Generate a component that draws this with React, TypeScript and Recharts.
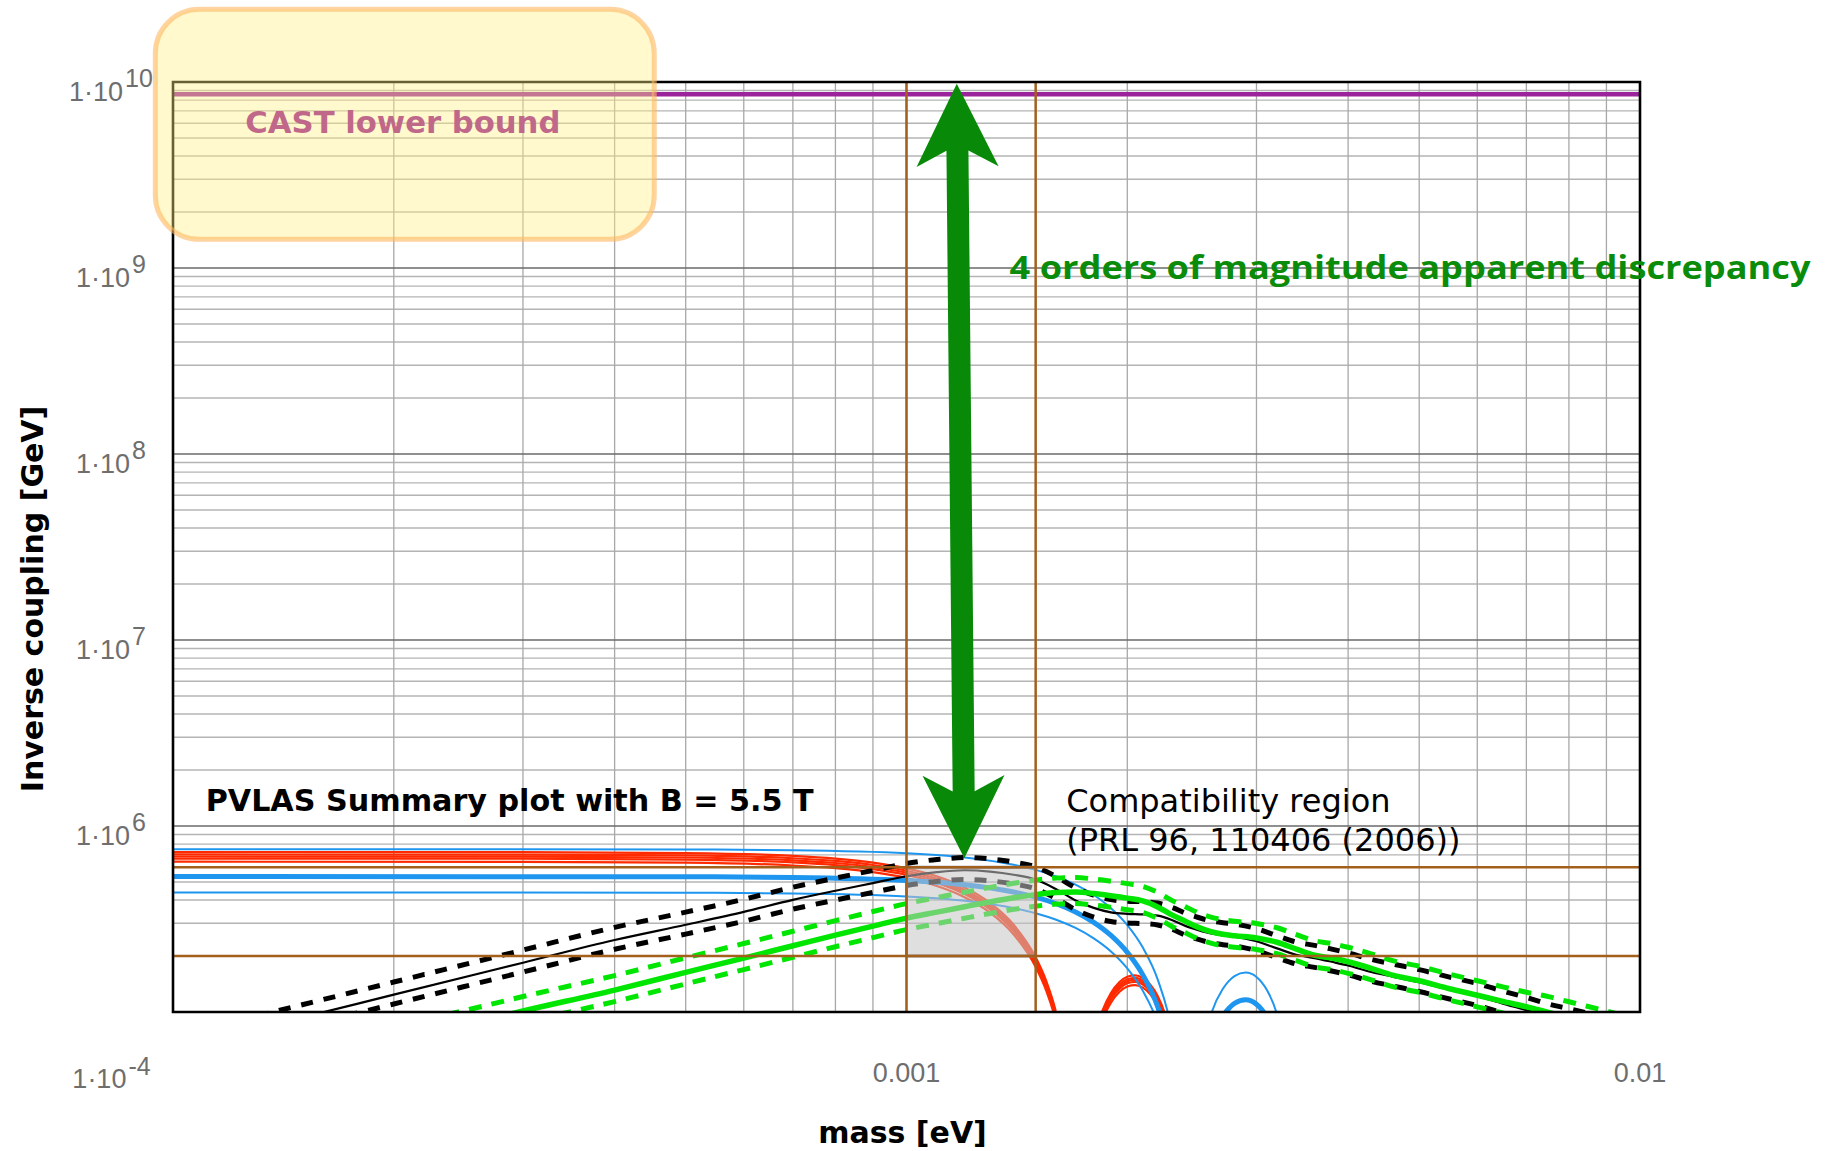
import React from 'react';
import { LineChart, Line, XAxis, YAxis, ReferenceLine, ReferenceArea, ReferenceDot } from 'recharts';

const W = 1830;
const H = 1151;

// ---------------- axes ----------------
const massDomain = [1e-4, 1e-2];
const couplingDomain = [1e5, 1e10];
const massTicks = [1e-4, 1e-3, 1e-2];
const massTickLabels = ['1·10', '0.001', '0.01'];
const couplingTicks = [1e6, 1e7, 1e8, 1e9, 1e10];
const gridSteps = [2, 3, 4, 5, 6, 7, 8, 9];
const massDecades = [1e-4, 1e-3];
const couplingDecades = [1e5, 1e6, 1e7, 1e8, 1e9];
const massMajorGrid = [1e-3];
const couplingMajorGrid = [1e6, 1e7, 1e8, 1e9];

// ---------------- bounds / regions ----------------
const castBound = 8.6e9;
const compatMass = [1.0e-3, 1.5e-3];
const compatCoupling = [2e5, 6e5];
const castBox = { m1: 9.46e-5, m2: 4.53e-4, M1: 1.426e9, M2: 2.46e10 };
const arrowTop = { m: 1.171e-3, M: 9.8e9 };
const arrowBottom = { m: 1.199e-3, M: 6.7e5 };
const castLabelAt = { m: 1.255e-4, M: 5.3e9 };
const discrepancyLabelAt = { m: 1.382e-3, M: 8.77e8 };
const pvlasLabelAt = { m: 1.108e-4, M: 1.204e6 };
const compatLabelAt = { m: 1.651e-3, M: 1.189e6 };

// ---------------- rotation (red) ----------------
const massRotRed = [1e-4, 3e-4, 5e-4, 7e-4, 8e-4, 9e-4, 1.0e-3, 1.1e-3, 1.2e-3, 1.3e-3, 1.4e-3, 1.5e-3, 1.55e-3, 1.6e-3, 1.65e-3];
const rotRed1 = [7.244e5, 7.233e5, 7.156e5, 6.913e5, 6.684e5, 6.361e5, 5.923e5, 5.36e5, 4.669e5, 3.857e5, 2.943e5, 1.968e5, 1.473e5, 9.856e4, 5.14e4];
const rotRed2 = [7.03e5, 7.02e5, 6.945e5, 6.709e5, 6.487e5, 6.173e5, 5.748e5, 5.202e5, 4.531e5, 3.743e5, 2.856e5, 1.91e5, 1.43e5, 9.565e4, 4.99e4];
const rotRed3 = [6.854e5, 6.844e5, 6.771e5, 6.541e5, 6.324e5, 6.019e5, 5.604e5, 5.072e5, 4.418e5, 3.649e5, 2.785e5, 1.862e5, 1.394e5, 9.326e4, 4.86e4];
const rotRed4 = [6.683e5, 6.673e5, 6.602e5, 6.378e5, 6.167e5, 5.869e5, 5.465e5, 4.945e5, 4.308e5, 3.558e5, 2.715e5, 1.816e5, 1.359e5, 9.093e4, 4.74e4];
const rotRed5 = [6.427e5, 6.417e5, 6.349e5, 6.133e5, 5.93e5, 5.644e5, 5.255e5, 4.755e5, 4.142e5, 3.422e5, 2.611e5, 1.746e5, 1.307e5, 8.744e4, 4.56e4];

const massRedLobe2 = [1.8e-3, 1.85e-3, 1.9e-3, 1.95e-3, 2.0e-3, 2.05e-3, 2.1e-3, 2.15e-3, 2.2e-3, 2.25e-3, 2.3e-3];
const redLobe1 = [7.08e4, 1.018e5, 1.265e5, 1.443e5, 1.546e5, 1.573e5, 1.524e5, 1.404e5, 1.22e5, 9.81e4, 7.03e4];
const redLobe2 = [6.87e4, 9.88e4, 1.227e5, 1.4e5, 1.5e5, 1.527e5, 1.479e5, 1.362e5, 1.184e5, 9.52e4, 6.83e4];
const redLobe3 = [6.7e4, 9.63e4, 1.197e5, 1.365e5, 1.463e5, 1.489e5, 1.442e5, 1.328e5, 1.154e5, 9.28e4, 6.66e4];
const redLobe4 = [6.53e4, 9.39e4, 1.167e5, 1.331e5, 1.426e5, 1.452e5, 1.406e5, 1.295e5, 1.125e5, 9.05e4, 6.49e4];
const redLobe5 = [6.28e4, 9.03e4, 1.122e5, 1.28e5, 1.372e5, 1.396e5, 1.352e5, 1.246e5, 1.082e5, 8.7e4, 6.24e4];

// ---------------- rotation (blue) ----------------
const massRotBlue = [1e-4, 5e-4, 7e-4, 1e-3, 1.2e-3, 1.4e-3, 1.5e-3, 1.6e-3, 1.7e-3, 1.8e-3, 1.9e-3, 2.0e-3, 2.1e-3, 2.2e-3, 2.3e-3, 2.35e-3];
const blueThinTop = [7.5e5, 7.478e5, 7.414e5, 7.145e5, 6.775e5, 6.194e5, 5.807e5, 5.355e5, 4.837e5, 4.255e5, 3.617e5, 2.933e5, 2.22e5, 1.498e5, 7.905e4, 4.51e4];
const blueThick = [5.35e5, 5.334e5, 5.288e5, 5.097e5, 4.833e5, 4.418e5, 4.143e5, 3.82e5, 3.45e5, 3.035e5, 2.58e5, 2.092e5, 1.584e5, 1.068e5, 5.64e4, 3.22e4];
const blueThinLow = [4.39e5, 4.377e5, 4.34e5, 4.182e5, 3.965e5, 3.625e5, 3.399e5, 3.134e5, 2.831e5, 2.49e5, 2.117e5, 1.716e5, 1.299e5, 8.77e4, 4.63e4, 2.64e4];

const massBlueLobe2 = [2.5e-3, 2.6e-3, 2.7e-3, 2.75e-3, 2.8e-3, 2.9e-3, 3.0e-3, 3.05e-3, 3.1e-3, 3.2e-3, 3.3e-3];
const blueThinTopLobe = [4.69e4, 9.64e4, 1.334e5, 1.466e5, 1.56e5, 1.629e5, 1.544e5, 1.445e5, 1.314e5, 9.7e4, 5.48e4];
const blueThickLobe = [3.34e4, 6.87e4, 9.52e4, 1.045e5, 1.113e5, 1.162e5, 1.101e5, 1.031e5, 9.37e4, 6.92e4, 3.91e4];

// ---------------- ellipticity (black) ----------------
const massEllBlack = [1.3e-4, 1.5e-4, 2e-4, 3e-4, 4e-4, 5e-4, 6e-4, 7e-4, 8e-4, 9e-4, 1.0e-3, 1.1e-3, 1.2e-3, 1.3e-3, 1.4e-3, 1.5e-3, 1.6e-3, 1.7e-3, 1.8e-3, 1.9e-3, 2.0e-3, 2.1e-3, 2.2e-3, 2.3e-3, 2.4e-3, 2.5e-3, 2.6e-3, 2.7e-3, 2.8e-3, 3.0e-3, 3.2e-3, 3.4e-3, 3.6e-3, 3.8e-3, 4.0e-3, 4.3e-3, 4.6e-3, 5.0e-3, 5.5e-3, 6.0e-3, 6.5e-3, 7.0e-3, 7.5e-3, 8.0e-3, 8.5e-3];
const blackCentral = [8.13e4, 9.35e4, 1.239e5, 1.841e5, 2.438e5, 2.944e5, 3.451e5, 4.009e5, 4.487e5, 4.932e5, 5.37e5, 5.649e5, 5.781e5, 5.689e5, 5.47e5, 5.152e5, 4.571e5, 3.981e5, 3.631e5, 3.436e5, 3.373e5, 3.35e5, 3.296e5, 3.126e5, 2.904e5, 2.754e5, 2.642e5, 2.582e5, 2.541e5, 2.399e5, 2.198e5, 2.032e5, 1.95e5, 1.862e5, 1.778e5, 1.641e5, 1.549e5, 1.445e5, 1.318e5, 1.216e5, 1.109e5, 1.023e5, 9.44e4, 8.91e4, 8.41e4];
const blackUpper = [9.51e4, 1.094e5, 1.449e5, 2.153e5, 2.851e5, 3.443e5, 4.036e5, 4.688e5, 5.248e5, 5.768e5, 6.28e5, 6.606e5, 6.761e5, 6.653e5, 6.397e5, 6.025e5, 5.346e5, 4.656e5, 4.246e5, 4.018e5, 3.945e5, 3.918e5, 3.855e5, 3.656e5, 3.396e5, 3.221e5, 3.09e5, 3.02e5, 2.972e5, 2.806e5, 2.571e5, 2.376e5, 2.281e5, 2.178e5, 2.079e5, 1.919e5, 1.812e5, 1.69e5, 1.541e5, 1.422e5, 1.297e5, 1.196e5, 1.104e5, 1.042e5, 9.84e4];
const blackLower = [7.25e4, 8.34e4, 1.104e5, 1.641e5, 2.173e5, 2.624e5, 3.076e5, 3.573e5, 3.999e5, 4.396e5, 4.786e5, 5.035e5, 5.153e5, 5.071e5, 4.875e5, 4.592e5, 4.074e5, 3.548e5, 3.236e5, 3.063e5, 3.006e5, 2.986e5, 2.938e5, 2.786e5, 2.588e5, 2.455e5, 2.355e5, 2.301e5, 2.265e5, 2.138e5, 1.959e5, 1.811e5, 1.738e5, 1.66e5, 1.585e5, 1.463e5, 1.381e5, 1.288e5, 1.175e5, 1.084e5, 9.88e4, 9.12e4, 8.41e4, 7.94e4, 7.5e4];

// ---------------- ellipticity (green) ----------------
const massEllGreen = [2.2e-4, 2.5e-4, 3e-4, 4e-4, 5e-4, 6e-4, 7e-4, 8e-4, 9e-4, 1.0e-3, 1.1e-3, 1.2e-3, 1.3e-3, 1.4e-3, 1.5e-3, 1.6e-3, 1.7e-3, 1.8e-3, 1.9e-3, 2.0e-3, 2.1e-3, 2.2e-3, 2.3e-3, 2.4e-3, 2.5e-3, 2.6e-3, 2.7e-3, 2.8e-3, 3.0e-3, 3.2e-3, 3.4e-3, 3.6e-3, 3.8e-3, 4.0e-3, 4.3e-3, 4.6e-3, 5.0e-3, 5.5e-3, 6.0e-3, 6.5e-3, 7.0e-3, 7.5e-3, 8.0e-3, 8.5e-3, 9.0e-3, 9.5e-3];
const greenCentral = [7.59e4, 8.51e4, 1.012e5, 1.312e5, 1.633e5, 1.95e5, 2.27e5, 2.588e5, 2.897e5, 3.199e5, 3.443e5, 3.681e5, 3.908e5, 4.111e5, 4.276e5, 4.385e5, 4.416e5, 4.335e5, 4.217e5, 4.093e5, 3.954e5, 3.673e5, 3.327e5, 3.076e5, 2.851e5, 2.704e5, 2.618e5, 2.57e5, 2.5e5, 2.371e5, 2.178e5, 2.018e5, 1.95e5, 1.862e5, 1.718e5, 1.578e5, 1.472e5, 1.334e5, 1.23e5, 1.14e5, 1.067e5, 9.95e4, 9.33e4, 8.81e4, 8.32e4, 7.89e4];
const greenUpper = [9.08e4, 1.019e5, 1.211e5, 1.57e5, 1.955e5, 2.334e5, 2.717e5, 3.098e5, 3.468e5, 3.829e5, 4.121e5, 4.406e5, 4.678e5, 4.921e5, 5.118e5, 5.249e5, 5.286e5, 5.189e5, 5.048e5, 4.899e5, 4.733e5, 4.397e5, 3.982e5, 3.682e5, 3.413e5, 3.237e5, 3.134e5, 3.076e5, 2.993e5, 2.838e5, 2.607e5, 2.416e5, 2.334e5, 2.229e5, 2.056e5, 1.889e5, 1.762e5, 1.597e5, 1.472e5, 1.365e5, 1.277e5, 1.21e5, 1.135e5, 1.071e5, 1.011e5, 9.59e4];
const greenLower = [6.58e4, 7.38e4, 8.77e4, 1.137e5, 1.416e5, 1.691e5, 1.968e5, 2.244e5, 2.512e5, 2.774e5, 2.985e5, 3.191e5, 3.388e5, 3.564e5, 3.707e5, 3.802e5, 3.829e5, 3.758e5, 3.656e5, 3.549e5, 3.428e5, 3.185e5, 2.885e5, 2.667e5, 2.472e5, 2.344e5, 2.27e5, 2.228e5, 2.168e5, 2.056e5, 1.888e5, 1.75e5, 1.691e5, 1.614e5, 1.49e5, 1.368e5, 1.276e5, 1.157e5, 1.066e5, 9.88e4, 9.25e4, 8.63e4, 8.09e4, 7.64e4, 7.21e4, 6.84e4];

// ---------------- helpers ----------------
type Row = { m: number; M: number };
const rows = (ms: number[], Ms: number[]): Row[] => ms.map((m, i) => ({ m, M: Ms[i] }));

const massMinorGrid = massDecades.flatMap((d) => gridSteps.map((k) => k * d));
const couplingMinorGrid = couplingDecades.flatMap((d) => gridSteps.map((k) => k * d));

const RED = '#ff2a00';
const BLUE = '#1e96f0';
const GREEN = '#00e600';
const BROWN = '#a35f1c';
const PURPLE = '#9b239b';
const ARROW = '#088a08';
const TICK_GRAY = '#6e6e6e';
const SANS = 'DejaVu Sans, sans-serif';
const TICK_FONT = 'Liberation Sans, Arial, sans-serif';

const YTick = (props: any) => {
  const { x, y, payload } = props;
  const exp = Math.round(Math.log10(payload.value));
  return (
    <text x={x - 62} y={y + 19} textAnchor="middle" fill={TICK_GRAY} fontFamily={TICK_FONT} fontSize={27}>
      <tspan>1·10</tspan>
      <tspan dx={2} dy={-14} fontSize={25}>{exp}</tspan>
    </text>
  );
};

const XTick = (props: any) => {
  const { x, y, payload } = props;
  const idx = massTicks.findIndex((t) => Math.abs(t - payload.value) / t < 1e-6);
  if (idx === 0) {
    return (
      <text x={x - 61.5} y={y + 76} textAnchor="middle" fill={TICK_GRAY} fontFamily={TICK_FONT} fontSize={27}>
        <tspan>{massTickLabels[0]}</tspan>
        <tspan dx={2} dy={-13} fontSize={25}>-4</tspan>
      </text>
    );
  }
  return (
    <text x={x} y={y + 70} textAnchor="middle" fill={TICK_GRAY} fontFamily={TICK_FONT} fontSize={27}>
      {massTickLabels[idx]}
    </text>
  );
};

const YTitle = (props: any) => {
  const vb = props.viewBox;
  const cx = vb.x + 43;
  const cy = vb.y + vb.height / 2 + 52;
  return (
    <text
      x={cx}
      y={cy}
      transform={`rotate(-90 ${cx} ${cy})`}
      textAnchor="middle"
      fontFamily={SANS}
      fontWeight="bold"
      fontSize={30}
      fill="#000"
    >
      Inverse coupling [GeV]
    </text>
  );
};

const XTitle = (props: any) => {
  const vb = props.viewBox;
  return (
    <text x={vb.x + vb.width / 2 - 4} y={vb.y + 131} textAnchor="middle" fontFamily={SANS} fontWeight="bold" fontSize={30} fill="#000">
      mass [eV]
    </text>
  );
};

const ArrowShape = (p: any) => {
  const { x1, y1, x2, y2 } = p;
  const dx = x2 - x1;
  const dy = y2 - y1;
  const len = Math.hypot(dx, dy) || 1;
  const ux = dx / len;
  const uy = dy / len;
  const nx = -uy;
  const ny = ux;
  const head = 83;
  const notch = 16;
  const half = 41;
  const shaft = 11;
  const pt = (bx: number, by: number, a: number, b: number) => `${bx + ux * a + nx * b},${by + uy * a + ny * b}`;
  const pts = [
    pt(x1, y1, 0, 0),
    pt(x1, y1, head, half),
    pt(x1, y1, head - notch, shaft),
    pt(x2, y2, -(head - notch), shaft),
    pt(x2, y2, -head, half),
    pt(x2, y2, 0, 0),
    pt(x2, y2, -head, -half),
    pt(x2, y2, -(head - notch), -shaft),
    pt(x1, y1, head - notch, -shaft),
    pt(x1, y1, head, -half),
  ];
  return <polygon points={pts.join(' ')} fill={ARROW} />;
};

const CastBoxShape = (p: any) => (
  <rect
    x={p.x}
    y={p.y}
    width={p.width}
    height={p.height}
    rx={44}
    ry={44}
    fill="#fff082"
    fillOpacity={0.4}
    stroke="#ffb860"
    strokeOpacity={0.6}
    strokeWidth={5}
  />
);

const lineBase = {
  dataKey: 'M',
  type: 'monotone' as const,
  dot: false,
  activeDot: false,
  isAnimationActive: false,
  legendType: 'none' as const,
};

export default function App() {
  return (
    <div style={{ width: W, height: H }}>
      <style>{'body{margin:0;}'}</style>
      <LineChart width={W} height={H} margin={{ top: 82, right: 190, bottom: 0, left: 0 }}>
        <XAxis
          dataKey="m"
          type="number"
          scale="log"
          domain={massDomain}
          allowDataOverflow
          ticks={massTicks}
          interval={0}
          tick={XTick}
          tickLine={false}
          axisLine={false}
          tickSize={0}
          tickMargin={0}
          height={139}
          label={{ content: XTitle }}
        />
        <YAxis
          type="number"
          scale="log"
          domain={couplingDomain}
          allowDataOverflow
          ticks={couplingTicks}
          interval={0}
          tick={YTick}
          tickLine={false}
          axisLine={false}
          tickSize={0}
          tickMargin={0}
          width={173}
          label={{ content: YTitle }}
        />

        {/* grid */}
        {couplingMinorGrid.map((v) => (
          <ReferenceLine key={`hy${v}`} y={v} stroke="#b4b4b4" strokeWidth={1.3} ifOverflow="visible" zIndex={-60} />
        ))}
        {massMinorGrid.map((v) => (
          <ReferenceLine key={`vx${v}`} x={v} stroke="#a8a8a8" strokeWidth={1.3} ifOverflow="visible" zIndex={-60} />
        ))}
        {couplingMajorGrid.map((v) => (
          <ReferenceLine key={`HY${v}`} y={v} stroke="#6a6a6a" strokeWidth={1.3} ifOverflow="visible" zIndex={-55} />
        ))}
        {massMajorGrid.map((v) => (
          <ReferenceLine key={`VX${v}`} x={v} stroke="#6a6a6a" strokeWidth={1.3} ifOverflow="visible" zIndex={-55} />
        ))}

        {/* CAST bound */}
        <ReferenceLine y={castBound} stroke={PURPLE} strokeWidth={4.5} zIndex={-40} />

        {/* rotation: red */}
        <Line {...lineBase} data={rows(massRotRed, rotRed1)} stroke={RED} strokeWidth={2.2} zIndex={100} />
        <Line {...lineBase} data={rows(massRotRed, rotRed2)} stroke={RED} strokeWidth={2.2} zIndex={100} />
        <Line {...lineBase} data={rows(massRotRed, rotRed3)} stroke={RED} strokeWidth={2.2} zIndex={100} />
        <Line {...lineBase} data={rows(massRotRed, rotRed4)} stroke={RED} strokeWidth={2.2} zIndex={100} />
        <Line {...lineBase} data={rows(massRotRed, rotRed5)} stroke={RED} strokeWidth={2.2} zIndex={100} />
        <Line {...lineBase} data={rows(massRedLobe2, redLobe1)} stroke={RED} strokeWidth={2.2} zIndex={100} />
        <Line {...lineBase} data={rows(massRedLobe2, redLobe2)} stroke={RED} strokeWidth={2.2} zIndex={100} />
        <Line {...lineBase} data={rows(massRedLobe2, redLobe3)} stroke={RED} strokeWidth={2.2} zIndex={100} />
        <Line {...lineBase} data={rows(massRedLobe2, redLobe4)} stroke={RED} strokeWidth={2.2} zIndex={100} />
        <Line {...lineBase} data={rows(massRedLobe2, redLobe5)} stroke={RED} strokeWidth={2.2} zIndex={100} />

        {/* rotation: blue */}
        <Line {...lineBase} data={rows(massRotBlue, blueThinTop)} stroke={BLUE} strokeWidth={2} zIndex={110} />
        <Line {...lineBase} data={rows(massRotBlue, blueThick)} stroke={BLUE} strokeWidth={5} zIndex={110} />
        <Line {...lineBase} data={rows(massRotBlue, blueThinLow)} stroke={BLUE} strokeWidth={2} zIndex={110} />
        <Line {...lineBase} data={rows(massBlueLobe2, blueThinTopLobe)} stroke={BLUE} strokeWidth={2} zIndex={110} />
        <Line {...lineBase} data={rows(massBlueLobe2, blueThickLobe)} stroke={BLUE} strokeWidth={5} zIndex={110} />

        {/* ellipticity: black */}
        <Line {...lineBase} data={rows(massEllBlack, blackUpper)} stroke="#000" strokeWidth={5} strokeDasharray="12 11" zIndex={120} />
        <Line {...lineBase} data={rows(massEllBlack, blackLower)} stroke="#000" strokeWidth={5} strokeDasharray="12 11" zIndex={120} />
        <Line {...lineBase} data={rows(massEllBlack, blackCentral)} stroke="#000" strokeWidth={2.2} zIndex={120} />

        {/* ellipticity: green */}
        <Line {...lineBase} data={rows(massEllGreen, greenUpper)} stroke={GREEN} strokeWidth={5} strokeDasharray="13 10" zIndex={130} />
        <Line {...lineBase} data={rows(massEllGreen, greenLower)} stroke={GREEN} strokeWidth={5} strokeDasharray="13 10" zIndex={130} />
        <Line {...lineBase} data={rows(massEllGreen, greenCentral)} stroke={GREEN} strokeWidth={5.5} zIndex={130} />

        {/* compatibility region */}
        <ReferenceArea
          x1={compatMass[0]}
          x2={compatMass[1]}
          y1={compatCoupling[0]}
          y2={compatCoupling[1]}
          fill="#c4c4c4"
          fillOpacity={0.55}
          stroke="#8a8a8a"
          strokeWidth={3}
          ifOverflow="visible"
          zIndex={200}
        />
        {compatMass.map((v) => (
          <ReferenceLine key={`bm${v}`} x={v} stroke={BROWN} strokeWidth={2.5} ifOverflow="visible" zIndex={210} />
        ))}
        {compatCoupling.map((v) => (
          <ReferenceLine key={`bc${v}`} y={v} stroke={BROWN} strokeWidth={2.5} ifOverflow="visible" zIndex={210} />
        ))}

        {/* frame */}
        <ReferenceArea
          x1={massDomain[0]}
          x2={massDomain[1]}
          y1={couplingDomain[0]}
          y2={couplingDomain[1]}
          fill="none"
          stroke="#000"
          strokeWidth={2.6}
          ifOverflow="visible"
          zIndex={220}
        />

        {/* CAST box */}
        <ReferenceArea
          x1={castBox.m1}
          x2={castBox.m2}
          y1={castBox.M1}
          y2={castBox.M2}
          ifOverflow="visible"
          shape={CastBoxShape}
          zIndex={230}
        />

        {/* annotations */}
        <ReferenceDot
          x={castLabelAt.m}
          y={castLabelAt.M}
          ifOverflow="visible"
          zIndex={300}
          shape={(p: any) => (
            <text x={p.cx} y={p.cy} fill="#c0688a" fontFamily={SANS} fontWeight="bold" fontSize={31} textLength={315} lengthAdjust="spacingAndGlyphs">
              CAST lower bound
            </text>
          )}
        />
        <ReferenceDot
          x={discrepancyLabelAt.m}
          y={discrepancyLabelAt.M}
          ifOverflow="visible"
          zIndex={300}
          shape={(p: any) => (
            <text x={p.cx} y={p.cy} fill="#0a8c0a" fontFamily="Open Sans, DejaVu Sans, sans-serif" fontWeight="bold" fontSize={33} textLength={801} lengthAdjust="spacingAndGlyphs">
              4 orders of magnitude apparent discrepancy
            </text>
          )}
        />
        <ReferenceDot
          x={pvlasLabelAt.m}
          y={pvlasLabelAt.M}
          ifOverflow="visible"
          zIndex={300}
          shape={(p: any) => (
            <text x={p.cx} y={p.cy} fill="#000" fontFamily={SANS} fontWeight="bold" fontSize={30} textLength={608} lengthAdjust="spacingAndGlyphs">
              PVLAS Summary plot with B = 5.5 T
            </text>
          )}
        />
        <ReferenceDot
          x={compatLabelAt.m}
          y={compatLabelAt.M}
          ifOverflow="visible"
          zIndex={300}
          shape={(p: any) => (
            <g>
              <text x={p.cx} y={p.cy} fill="#000" fontFamily={SANS} fontSize={32}>
                Compatibility region
              </text>
              <text x={p.cx} y={p.cy + 38.5} fill="#000" fontFamily={SANS} fontSize={32}>
                (PRL 96, 110406 (2006))
              </text>
            </g>
          )}
        />

        {/* double arrow */}
        <ReferenceLine
          segment={[
            { x: arrowTop.m, y: arrowTop.M },
            { x: arrowBottom.m, y: arrowBottom.M },
          ]}
          ifOverflow="visible"
          shape={ArrowShape}
          zIndex={310}
        />
      </LineChart>
    </div>
  );
}
